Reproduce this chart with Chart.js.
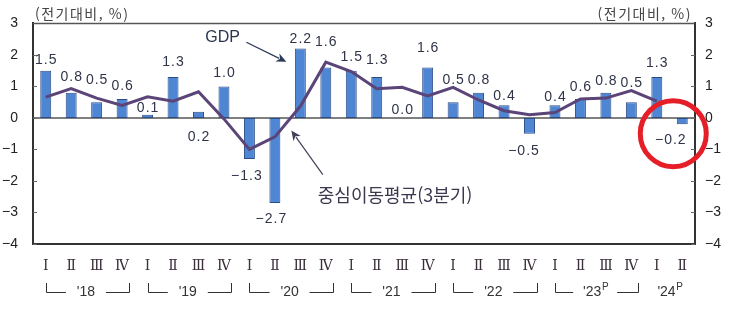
<!DOCTYPE html>
<html lang="ko">
<head>
<meta charset="utf-8">
<title>GDP 성장률</title>
<script src="https://cdn.jsdelivr.net/npm/chart.js@4.4.1/dist/chart.umd.min.js"></script>
<style>
  body { margin: 0; background: #fff; }
  #wrap { width: 735px; height: 322px; }
</style>
</head>
<body>
<div id="wrap"><canvas id="chart" width="735" height="322"></canvas></div>
<script>
// 분기 라벨 ('18 I ~ '24 II)
const quarters = ['Ⅰ','Ⅱ','Ⅲ','Ⅳ','Ⅰ','Ⅱ','Ⅲ','Ⅳ','Ⅰ','Ⅱ','Ⅲ','Ⅳ','Ⅰ','Ⅱ','Ⅲ','Ⅳ',
                  'Ⅰ','Ⅱ','Ⅲ','Ⅳ','Ⅰ','Ⅱ','Ⅲ','Ⅳ','Ⅰ','Ⅱ'];
const years = ["'18", "'19", "'20", "'21", "'22", "'23", "'24"];
const yearMark = ['', '', '', '', '', 'P', 'P'];
// GDP 전기대비 성장률 (%)
const gdp = [1.5, 0.8, 0.5, 0.6, 0.1, 1.3, 0.2, 1.0, -1.3, -2.7, 2.2, 1.6,
             1.5, 1.3, 0.0, 1.6, 0.5, 0.8, 0.4, -0.5, 0.4, 0.6, 0.8, 0.5, 1.3, -0.2];
// 중심이동평균(3분기)
const movingAvg = [0.66, 0.93, 0.63, 0.40, 0.67, 0.53, 0.83, -0.03, -1.00, -0.60, 0.37, 1.77,
                   1.47, 0.93, 0.97, 0.70, 0.97, 0.57, 0.23, 0.10, 0.17, 0.60, 0.63, 0.87, 0.53, null];
const yMin = -4, yMax = 3;

// label placement (px from bar end, + = down)
const labelDy = [-11, -16, -22, -13, -7, -15, 26, -13, 17, 16, -9, -25,
                 -14, -17, -8, -19, -22, -13, -9, 17, -8, -12, -12, -19, -14, 16];
const labelDx = new Array(26).fill(0);
labelDx[25] = -12;
labelDx[19] = -6;
labelDx[8] = -3;
labelDx[9] = -4;

const minus = s => String(s).replace('-', '\u2212');

const overlay = {
  id: 'overlay',
  beforeDatasetsDraw(chart) {
    const { ctx, chartArea: a, scales: { y } } = chart;
    ctx.save();
    // zero line
    ctx.strokeStyle = '#555';
    ctx.lineWidth = 1.5;
    ctx.beginPath();
    ctx.moveTo(a.left, y.getPixelForValue(0));
    ctx.lineTo(a.right, y.getPixelForValue(0));
    ctx.stroke();
    // inner tick marks
    ctx.strokeStyle = '#666';
    ctx.lineWidth = 1;
    for (let v = yMin; v <= yMax; v++) {
      const py = Math.round(y.getPixelForValue(v)) + 0.5;
      ctx.beginPath();
      ctx.moveTo(a.left, py); ctx.lineTo(a.left + 4, py);
      ctx.moveTo(a.right - 4, py); ctx.lineTo(a.right, py);
      ctx.stroke();
    }
    // top frame line
    ctx.strokeStyle = '#555';
    ctx.lineWidth = 1.5;
    ctx.beginPath();
    ctx.moveTo(a.left, a.top);
    ctx.lineTo(a.right, a.top);
    ctx.stroke();
    ctx.restore();
  },
  afterDraw(chart) {
    const { ctx, chartArea: a, scales: { x, y } } = chart;
    const px = i => x.getPixelForValue(i);
    const py = v => y.getPixelForValue(v);
    ctx.save();

    // value labels
    ctx.font = '14px "Liberation Sans", Arial, sans-serif';
    ctx.letterSpacing = '1px';
    ctx.fillStyle = '#2f3448';
    ctx.textAlign = 'center';
    ctx.textBaseline = 'middle';
    gdp.forEach((v, i) => {
      const end = py(v);
      ctx.fillText(minus(v.toFixed(1)), px(i) + labelDx[i] + 0.5, end + labelDy[i]);
    });

    // unit titles
    ctx.font = '14px "Noto Sans CJK KR", sans-serif';
    ctx.letterSpacing = '1.5px';
    ctx.fillStyle = '#444';
    ctx.textAlign = 'left';
    ctx.fillText('(전기대비, %)', a.left + 2, 14);
    ctx.textAlign = 'right';
    ctx.fillText('(전기대비, %)', a.right - 3, 14);
    ctx.letterSpacing = '0px';

    // GDP annotation
    ctx.font = '16px "Liberation Sans", Arial, sans-serif';
    ctx.fillStyle = '#2a3550';
    ctx.textAlign = 'left';
    ctx.fillText('GDP', px(10) - 95, py(2.55));
    arrow(ctx, px(10) - 54, py(2.4), px(10) - 14, py(1.78), '#2a3a58');

    // moving average annotation
    ctx.font = '18px "Noto Sans CJK KR", sans-serif';
    ctx.fillStyle = '#3d3850';
    ctx.fillText('중심이동평균(3분기)', px(11) - 8, py(-2.44));
    arrow(ctx, px(11) - 3, py(-1.8), px(10) - 9, py(-0.4), '#45405a');

    // year brackets
    ctx.strokeStyle = '#333';
    ctx.lineWidth = 1;
    ctx.fillStyle = '#333';
    const by = a.bottom + 48.5, bTop = a.bottom + 39;
    years.forEach((yr, k) => {
      const i0 = k * 4;
      const last = Math.min(i0 + 3, gdp.length - 1);
      const cx = (px(i0) + px(last)) / 2 + (last - i0 === 3 ? 2 : 0);
      ctx.font = '14px "Liberation Sans", Arial, sans-serif';
      ctx.textAlign = 'center';
      const w = ctx.measureText(yr).width;
      const shift = yearMark[k] ? -3 : 0;
      ctx.fillText(yr, cx + shift, a.bottom + 48);
      if (yearMark[k]) {
        ctx.font = '10px "Liberation Sans", Arial, sans-serif';
        ctx.fillText(yearMark[k], cx + shift + w / 2 + 4, a.bottom + 43);
      }
      if (last - i0 === 3) {
        const l = Math.round(px(i0)) + 0.5, r = Math.round(px(last) + 7) + 0.5;
        const gap = yearMark[k] ? 22 : 20;
        ctx.beginPath();
        ctx.moveTo(l, bTop); ctx.lineTo(l, by); ctx.lineTo(cx - gap, by);
        ctx.moveTo(cx + gap, by); ctx.lineTo(r, by); ctx.lineTo(r, bTop);
        ctx.stroke();
      }
    });

    // red highlight circle
    ctx.strokeStyle = '#e61e28';
    ctx.lineWidth = 5;
    ctx.beginPath();
    ctx.arc(px(25) - 9, py(-0.5), 33, 0, Math.PI * 2);
    ctx.stroke();
    ctx.restore();
  }
};

function arrow(ctx, x1, y1, x2, y2, color) {
  const ang = Math.atan2(y2 - y1, x2 - x1);
  const len = 10, wid = 4.5;
  ctx.save();
  ctx.strokeStyle = color;
  ctx.fillStyle = color;
  ctx.lineWidth = 1.2;
  ctx.beginPath();
  ctx.moveTo(x1, y1);
  ctx.lineTo(x2 - Math.cos(ang) * len * 0.8, y2 - Math.sin(ang) * len * 0.8);
  ctx.stroke();
  ctx.beginPath();
  ctx.moveTo(x2, y2);
  ctx.lineTo(x2 - Math.cos(ang) * len - Math.sin(ang) * wid, y2 - Math.sin(ang) * len + Math.cos(ang) * wid);
  ctx.lineTo(x2 - Math.cos(ang) * len * 0.7, y2 - Math.sin(ang) * len * 0.7);
  ctx.lineTo(x2 - Math.cos(ang) * len + Math.sin(ang) * wid, y2 - Math.sin(ang) * len - Math.cos(ang) * wid);
  ctx.closePath();
  ctx.fill();
  ctx.restore();
}

const tickFont = { family: '"Liberation Sans", Arial, sans-serif', size: 14 };

new Chart(document.getElementById('chart'), {
  data: {
    labels: quarters,
    datasets: [
      {
        type: 'line',
        label: '중심이동평균(3분기)',
        data: movingAvg,
        borderColor: '#5a4478',
        borderWidth: 3,
        pointRadius: 0,
        tension: 0,
        spanGaps: false,
        yAxisID: 'y',
        order: 0
      },
      {
        type: 'bar',
        label: 'GDP',
        data: gdp,
        backgroundColor: '#4f86d4',
        borderColor: '#2c4c86',
        borderWidth: 1,
        borderSkipped: false,
        categoryPercentage: 1,
        barPercentage: 0.43,
        yAxisID: 'y',
        order: 1
      }
    ]
  },
  options: {
    responsive: false,
    animation: false,
    layout: { padding: { top: 23, left: 0, right: 0, bottom: 0 } },
    plugins: { legend: { display: false }, tooltip: { enabled: false } },
    scales: {
      x: {
        grid: { display: false, drawTicks: false },
        border: { display: true, color: '#333', width: 2 },
        ticks: { font: { family: '"DejaVu Serif", "Liberation Serif", serif', size: 14 }, color: '#3a2f3a', padding: 14, maxRotation: 0, autoSkip: false },
        afterFit: s => { s.height = 78; }
      },
      y: {
        position: 'left',
        min: yMin, max: yMax,
        grid: { display: false, drawTicks: false },
        border: { display: true, color: '#333', width: 2 },
        ticks: { stepSize: 1, font: tickFont, color: '#222', padding: 15, callback: v => minus(v) },
        afterFit: s => { s.width = 33; }
      },
      y2: {
        position: 'right',
        min: yMin, max: yMax,
        grid: { display: false, drawTicks: false },
        border: { display: true, color: '#333', width: 2 },
        ticks: { stepSize: 1, font: tickFont, color: '#222', padding: 10, callback: v => minus(v) },
        afterFit: s => { s.width = 40; }
      }
    }
  },
  plugins: [overlay]
});
</script>
</body>
</html>
